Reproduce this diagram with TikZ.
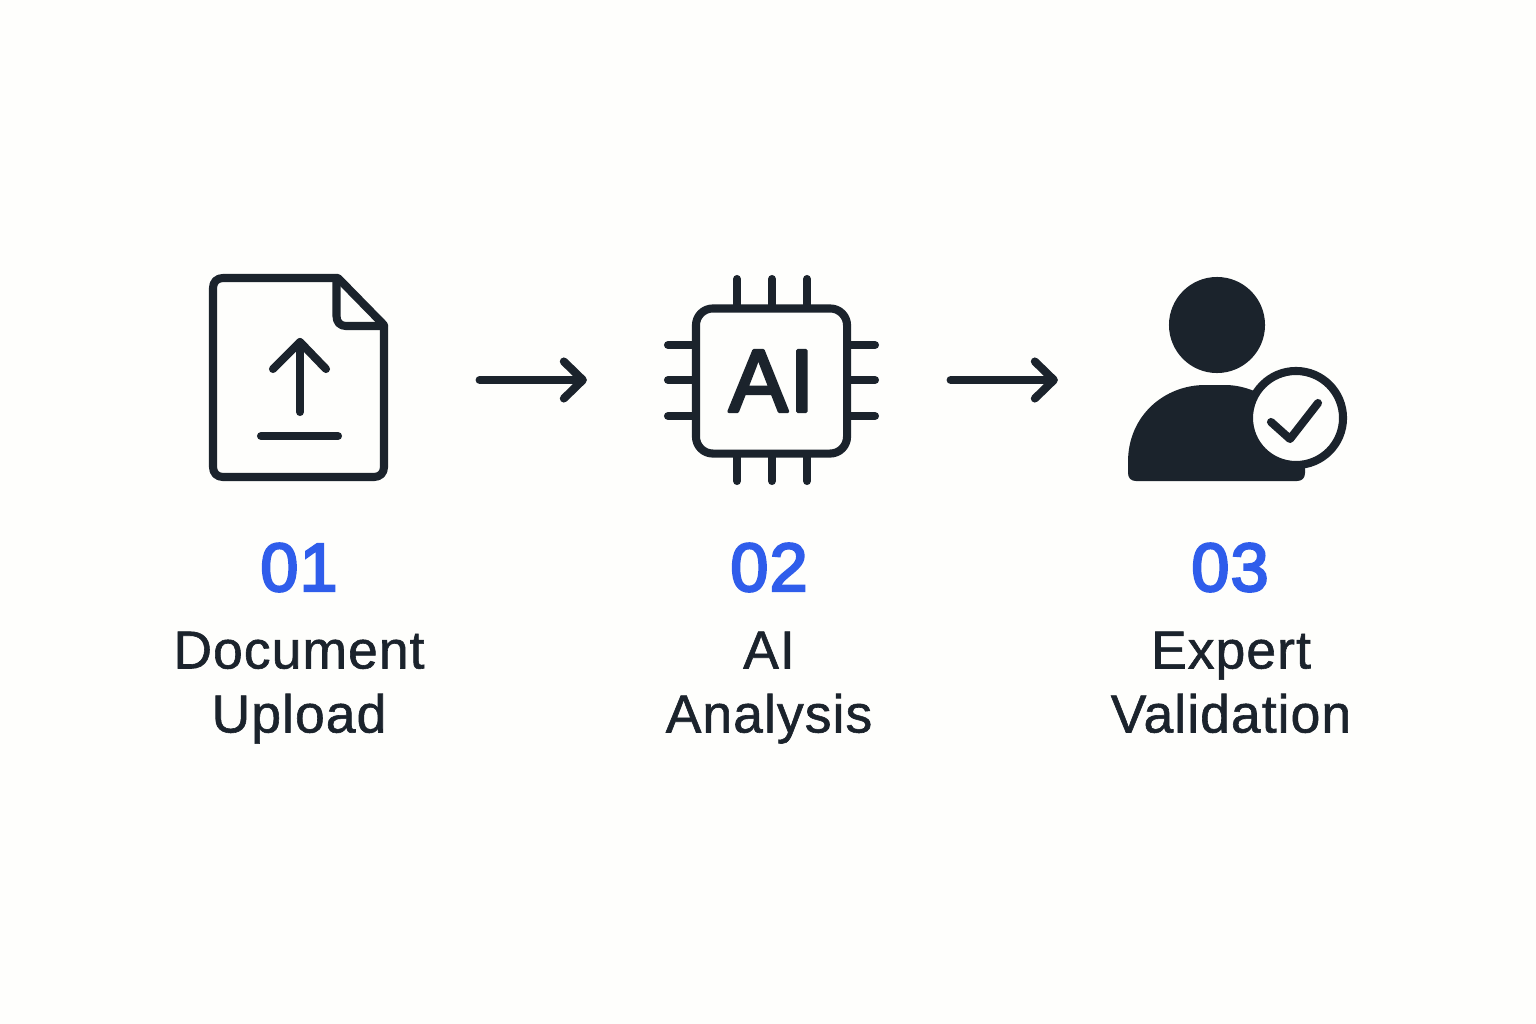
\documentclass[tikz,border=0pt]{standalone}
\usepackage{fontspec}
\setmainfont{Liberation Sans}
\newfontfamily\labelfont[LetterSpace=2,FakeBold=1.1]{Liberation Sans}
\newfontfamily\heavyfont[LetterSpace=2,FakeBold=3.5]{Liberation Sans}
\usepackage{xcolor}
\usetikzlibrary{arrows.meta}
\definecolor{inkdark}{HTML}{1B232C}
\definecolor{stepblue}{HTML}{2F5DEB}
\definecolor{paper}{HTML}{FEFEFC}

\begin{document}
\begin{tikzpicture}[x=0.01cm,y=-0.01cm,>={Straight Barb[length=1.9mm,width=3.7mm,round]}]
\tikzset{
    icon/.style={%
        draw=inkdark, line width=2.3pt,
        line cap=round, line join=round
        },
    flow/.style={%
        icon, ->
        },
    bound/.style={%
        rectangle, outer sep=0pt, inner sep=0pt
        },
    chipbox/.style={%
        bound, icon, fill=paper,
        rounded corners=4.8pt,
        minimum width=1.51cm,
        minimum height=1.45cm
        },
    stepnum/.style={%
        text=stepblue, inner sep=0pt,
        font=\heavyfont\fontsize{19.4}{24}\selectfont
        },
    steplabel/.style={%
        text=inkdark, inner sep=0pt, align=center,
        font=\labelfont\fontsize{15.2}{18.2}\selectfont
        },
}
%%%BACKGROUND
\fill[paper] (0,0) rectangle (1536,1024);
\useasboundingbox (0,0) rectangle (1536,1024);
%%%DOCUMENT
\node[bound, minimum width=1.76cm, minimum height=2.04cm] (doc) at (298,380) {};
\draw[icon] (223,278) -- (338,278) -- (384,325) -- (384,467)
    .. controls (384,473) and (380,477) .. (374,477) -- (223,477)
    .. controls (217,477) and (213,473) .. (213,467) -- (213,288)
    .. controls (213,282) and (217,278) .. (223,278) -- cycle;
\draw[icon] (336.5,280) -- (336.5,316) .. controls (336.5,322) and (340,326) .. (346,326) -- (384,326);
\draw[icon] (300,342) -- (300,412);
\draw[icon] (273,369) -- (300,342) -- (326,369);
\draw[icon] (261,436) -- (338,436);
%%%CHIP
\foreach \x in {737,772,807}{
    \draw[icon] (\x,279) -- (\x,309);
    \draw[icon] (\x,451) -- (\x,481);
}
\foreach \y in {345,380,416}{
    \draw[icon] (668,\y) -- (696,\y);
    \draw[icon] (847,\y) -- (875,\y);
}
\node[chipbox, text=inkdark, font=\heavyfont\fontsize{25.2}{30}\selectfont] (chip) at (771.5,381) {AI};
%%%PERSON
\node[bound, minimum width=2.19cm, minimum height=2.04cm] (person) at (1237.5,380) {};
\node[circle, fill=inkdark, inner sep=0pt, minimum size=0.96cm] (head) at (1217,325) {};
\fill[inkdark] (1128,473) -- (1128,462) .. controls (1128,415) and (1165,385) .. (1205,385)
    -- (1225,385) .. controls (1265,385) and (1305,420) .. (1305,462) -- (1305,473)
    .. controls (1305,478) and (1302,481) .. (1297,481) -- (1136,481)
    .. controls (1131,481) and (1128,478) .. (1128,473) -- cycle;
\node[circle, draw=inkdark, fill=paper, line width=2.3pt, inner sep=0pt, minimum size=0.94cm] (badge) at (1296,418) {};
\draw[icon] (1271,422) -- (1290,439) -- (1318,403);
%%%ARROWS
\draw[flow, shorten <=0.935cm, shorten >=1.09cm] (doc.east) -- (chip.west |- doc.east);
\draw[flow, shorten <=1.035cm, shorten >=0.70cm] (chip.east |- person.west) -- (person.west);
%%%NUMBERS
\node[stepnum, anchor=base] (num1) at (299,591) {01};
\node[stepnum, anchor=base] (num2) at (769,591) {02};
\node[stepnum, anchor=base] (num3) at (1230,591) {03};
%%%LABELS
\node[steplabel, anchor=north] (label1) at (299,631) {Document\\Upload};
\node[steplabel, anchor=north] (label2) at (769,631) {AI\\Analysis};
\node[steplabel, anchor=north] (label3) at (1231,631) {Expert\\Validation};
\end{tikzpicture}
\end{document}
